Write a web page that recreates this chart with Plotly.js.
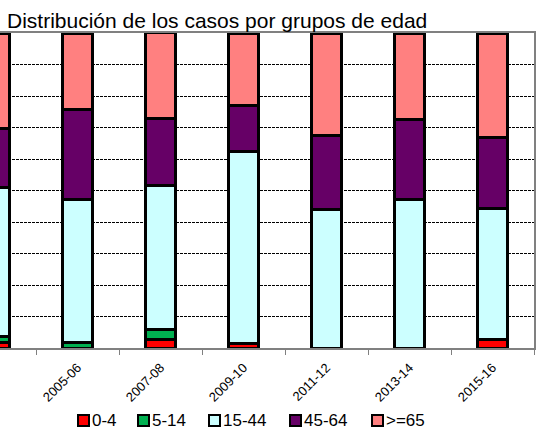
<!DOCTYPE html>
<html>
<head>
<meta charset="utf-8">
<script src="https://cdn.plot.ly/plotly-3.0.1.min.js"></script>
<style>html,body{margin:0;padding:0;background:#fff;}#chart{width:536px;height:431px;}</style>
</head>
<body>
<div id="chart"></div>
<script>
var categories = ['2003-04','2005-06','2007-08','2009-10','2011-12','2013-14','2015-16'];
var seriesNames = ['0-4','5-14','15-44','45-64','>=65'];
var s0_4   = [1.7, 0,    2.8,  1.5,  0,    0,    2.8];
var s5_14  = [2.1, 1.7,  3.2,  0,    0,    0,    0];
var s15_44 = [47.0, 45.3, 45.5, 60.8, 44.0, 47.2, 41.6];
var s45_64 = [19.0, 28.6, 21.5, 14.8, 23.6, 25.2, 22.4];
var s65    = [30.2, 24.4, 27.1, 22.9, 32.4, 27.6, 33.2];
var seriesValues = [s0_4, s5_14, s15_44, s45_64, s65];
var colors = ['#FF0000','#00B050','#CCFFFF','#660066','#FF8080'];

var W = 536, H = 431;
var mL = 0, mR = 2, mT = 33, mB = 83;
var pw = W - mL - mR, ph = H - mT - mB;

var traces = seriesValues.map(function(v, i){
  return {
    type: 'bar', name: seriesNames[i], x: categories, y: v,
    marker: {color: colors[i], line: {color: '#000', width: 3}},
    showlegend: false, hoverinfo: 'skip'
  };
});

// custom legend (layout positions in pixels)
var legLeft = [78, 138, 209, 290, 372];
var legCy = 420.5, sq = 11;
function px2x(p){ return (p - mL) / pw; }
function py2y(p){ return (mT + ph - p) / ph; }
var shapes = [], annotations = [];
seriesNames.forEach(function(n, i){
  shapes.push({type:'rect', xref:'paper', yref:'paper',
    x0: px2x(legLeft[i]), x1: px2x(legLeft[i]+sq),
    y0: py2y(legCy + sq/2), y1: py2y(legCy - sq/2),
    fillcolor: colors[i], line:{color:'#000', width:2}});
  annotations.push({xref:'paper', yref:'paper', x: px2x(legLeft[i]+sq+1.5), y: py2y(legCy),
    xanchor:'left', yanchor:'middle', text: n, showarrow:false, borderpad: 0,
    font:{family:'Arial, Liberation Sans, sans-serif', size:17, color:'#000'}});
});

var layout = {
  width: W, height: H,
  margin: {l: mL, r: mR, t: mT, b: mB, pad: 0},
  paper_bgcolor: '#fff', plot_bgcolor: '#fff',
  barmode: 'stack', bargap: 0.635,
  font: {family: 'Arial, Liberation Sans, sans-serif', color: '#000'},
  title: {text: 'Distribución de los casos por grupos de edad',
    xref: 'container', yref: 'container', x: 7/W, xanchor: 'left',
    y: 1 - 21/H, yanchor: 'middle',
    font: {family: 'Arial, Liberation Sans, sans-serif', size: 21, color: '#000'}},
  xaxis: {type: 'category', range: [0.066, 6.5], tickson: 'boundaries',
    ticks: 'outside', ticklen: 5, tickcolor: '#808080', tickwidth: 1,
    showline: true, linecolor: '#808080', linewidth: 2, mirror: true,
    showgrid: false, tickangle: -45, ticklabelstandoff: 5,
    tickfont: {family: 'Arial, Liberation Sans, sans-serif', size: 13, color: '#000'}},
  yaxis: {range: [0, 100], dtick: 10, side: 'right', showticklabels: false,
    ticks: '', showline: true, linecolor: '#808080', linewidth: 2,
    showgrid: true, gridcolor: '#000', gridwidth: 1, griddash: '3px,1px',
    zeroline: false},
  shapes: shapes, annotations: annotations
};

Plotly.newPlot('chart', traces, layout, {displayModeBar: false, staticPlot: true});
</script>
</body>
</html>
